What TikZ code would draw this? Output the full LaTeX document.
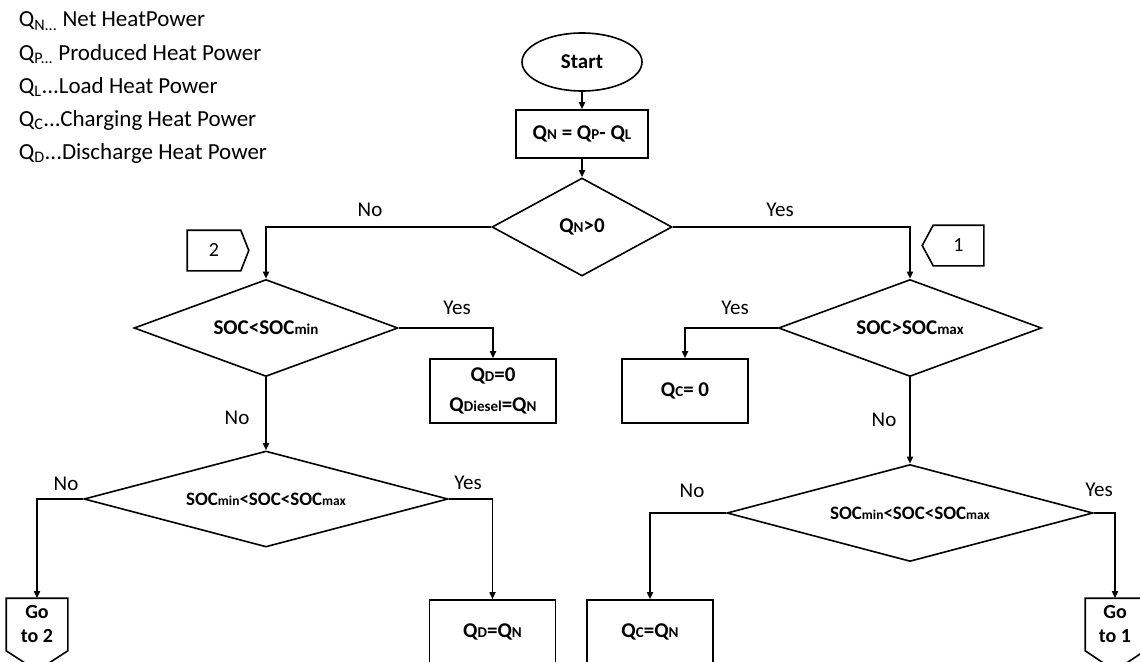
\documentclass[tikz,border=0pt]{standalone}
\usepackage{fontspec}
\setmainfont{Carlito}
\usetikzlibrary{shapes.geometric,arrows.meta,calc}
\newcommand{\sm}[1]{{\fontsize{15}{16}\selectfont #1}}
\newcommand{\smb}[1]{{\fontsize{13.5}{14}\selectfont #1}}
\begin{document}
\begin{tikzpicture}[x=1pt,y=-1pt,line width=1.6pt,
  box/.style={draw,rectangle,minimum width=126pt,minimum height=64pt,inner sep=0pt,align=center,font=\fontsize{21}{30}\selectfont\bfseries},
  dec/.style={draw,diamond,aspect=2.7,inner sep=0pt,font=\fontsize{21}{24}\selectfont\bfseries},
  decs/.style={dec,font=\fontsize{19}{22}\selectfont\bfseries},
  gobox/.style={rectangle,inner sep=0pt,align=center,minimum height=51pt,font=\fontsize{20}{24}\selectfont\bfseries},
  conn/.style={rectangle,inner sep=0pt,minimum height=39pt,font=\fontsize{20}{24}\selectfont},
  lab/.style={inner sep=0pt,font=\fontsize{21}{24}\selectfont},
  legend/.style={inner sep=0pt,anchor=base west,font=\fontsize{23}{26}\selectfont},
  arr/.style={-{Triangle[length=7pt,width=6pt]}}]
\useasboundingbox (0,0) rectangle (1140,661);
\clip (0,0) rectangle (1140,661);

% legend
\node[legend] (lg1) at (18,27) {Q\textsubscript{N...} Net HeatPower};
\node[legend] (lg2) at (18,60) {Q\textsubscript{P...} Produced Heat Power};
\node[legend] (lg3) at (18,93) {Q\textsubscript{L}...Load Heat Power};
\node[legend] (lg4) at (18,126) {Q\textsubscript{C}...Charging Heat Power};
\node[legend] (lg5) at (18,159) {Q\textsubscript{D}...Discharge Heat Power};

% main chain
\node[draw,ellipse,minimum width=120pt,minimum height=58pt,inner sep=0pt,font=\fontsize{21}{24}\selectfont\bfseries] (start) at (582,62) {Start};
\node[box,minimum width=132pt,minimum height=48pt] (b0) at (582,134) {Q\sm{N} = Q\sm{P}- Q\sm{L}};
\node[dec,minimum width=180pt,minimum height=98pt] (d0) at (582,227) {Q\sm{N}>0};

\node[dec,minimum width=264pt,minimum height=97pt] (d1) at (266,328) {SOC<SOC\sm{min}};
\node[dec,minimum width=263pt,minimum height=97pt] (d2) at (910,328) {SOC>SOC\sm{max}};
\node[decs,minimum width=364pt,minimum height=96pt] (d3) at (266,499) {SOC\smb{min}<SOC<SOC\smb{max}};
\node[decs,minimum width=366pt,minimum height=97pt] (d4) at (910,513) {SOC\smb{min}<SOC<SOC\smb{max}};

\node[box] (qd0) at (493,391) {Q\sm{D}=0\\Q\sm{Diesel}=Q\sm{N}};
\node[box] (qc0) at (685,391) {Q\sm{C}= 0};
\node[box] (qdqn) at (492.5,632) {Q\sm{D}=Q\sm{N}};
\node[box] (qcqn) at (650,632) {Q\sm{C}=Q\sm{N}};

% off-page connectors
\node[gobox,minimum width=60pt] (g2) at (37,624.5) {Go\\to 2};
\draw (g2.north west) -- (g2.north east) -- (g2.south east) -- ($(g2.south)+(0,20)$) -- (g2.south west) -- cycle;
\node[gobox,minimum width=58pt] (g1) at (1115,624.5) {Go\\to 1};
\draw (g1.north west) -- (g1.north east) -- (g1.south east) -- ($(g1.south)+(0,20)$) -- (g1.south west) -- cycle;

\node[conn,minimum width=52pt] (c2) at (214,250.5) {2};
\draw (c2.north west) -- (c2.north east) -- ($(c2.east)+(8,0)$) -- (c2.south east) -- (c2.south west) -- cycle;
\node[conn,minimum width=49pt] (c1) at (958.5,245.5) {1};
\draw (c1.north east) -- (c1.north west) -- ($(c1.west)+(-11,0)$) -- (c1.south west) -- (c1.south east) -- cycle;

% connectors
\draw[arr] (start) -- (b0);
\draw[arr] (b0) -- (d0);
\draw[arr] (d0.west) -| (d1.north);
\draw[arr] (d0.east) -| (d2.north);
\draw[arr] (d1.east) -| (qd0.north);
\draw[arr] (d1.south) -- (d3.north);
\draw[arr] (d2.west) -| (qc0.north);
\draw[arr] (d2.south) -- (d4.north);
\draw[arr] (d3.west) -| (g2.north);
\draw[arr] (d3.east) -| (qdqn.north);
\draw[arr] (d4.west) -| (qcqn.north);
\draw[arr] (d4.east) -| (g1.north);

% branch labels
\node[lab] (t1) at (370,210) {No};
\node[lab] (t2) at (780,210) {Yes};
\node[lab] (t3) at (457,308) {Yes};
\node[lab] (t4) at (237,418) {No};
\node[lab] (t5) at (735,308) {Yes};
\node[lab] (t6) at (884,420) {No};
\node[lab] (t7) at (66,484) {No};
\node[lab] (t8) at (468,483) {Yes};
\node[lab] (t9) at (692,491) {No};
\node[lab] (t10) at (1099,490) {Yes};
\end{tikzpicture}
\end{document}
